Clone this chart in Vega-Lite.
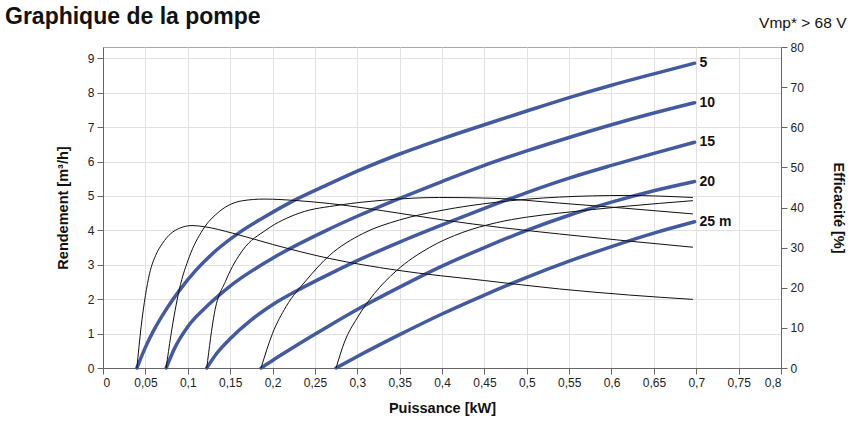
{
  "$schema": "https://vega.github.io/schema/vega-lite/v6.json",
  "width": 678,
  "height": 321,
  "autosize": "none",
  "padding": {"left": 103, "top": 47, "right": 82, "bottom": 54},
  "background": "white",
  "title": {"text": "Graphique de la pompe", "anchor": "start", "frame": "group", "dx": -98, "dy": 42, "fontSize": 23, "fontWeight": "bold", "font": "Liberation Sans", "color": "#111", "baseline": "alphabetic", "offset": 10},
  "config": {
    "font": "Liberation Sans",
    "view": {"stroke": "#aaa", "strokeWidth": 1},
    "axis": {"labelFont": "Liberation Sans", "labelFontSize": 12, "labelColor": "#222", "titleFont": "Liberation Sans", "titleFontSize": 14.5, "titleFontWeight": "bold", "titleColor": "#111", "domainColor": "#666", "tickColor": "#666", "gridColor": "#e2e2e2", "tickSize": 6, "labelPadding": 3}
  },
  "datasets": {
    "curves": [
      {"s": "Q", "h": "5", "P": 0.04, "v": 0}, {"s": "Q", "h": "5", "P": 0.05, "v": 0.6}, {"s": "Q", "h": "5", "P": 0.06, "v": 1.1}, {"s": "Q", "h": "5", "P": 0.075, "v": 1.72}, {"s": "Q", "h": "5", "P": 0.09, "v": 2.25}, {"s": "Q", "h": "5", "P": 0.11, "v": 2.85}, {"s": "Q", "h": "5", "P": 0.135, "v": 3.45}, {"s": "Q", "h": "5", "P": 0.16, "v": 3.92}, {"s": "Q", "h": "5", "P": 0.19, "v": 4.38}, {"s": "Q", "h": "5", "P": 0.22, "v": 4.8}, {"s": "Q", "h": "5", "P": 0.267, "v": 5.35}, {"s": "Q", "h": "5", "P": 0.3, "v": 5.72}, {"s": "Q", "h": "5", "P": 0.35, "v": 6.22}, {"s": "Q", "h": "5", "P": 0.4, "v": 6.66}, {"s": "Q", "h": "5", "P": 0.45, "v": 7.07}, {"s": "Q", "h": "5", "P": 0.5, "v": 7.47}, {"s": "Q", "h": "5", "P": 0.55, "v": 7.86}, {"s": "Q", "h": "5", "P": 0.6, "v": 8.22}, {"s": "Q", "h": "5", "P": 0.65, "v": 8.55}, {"s": "Q", "h": "5", "P": 0.698, "v": 8.86},
      {"s": "Q", "h": "10", "P": 0.0745, "v": 0}, {"s": "Q", "h": "10", "P": 0.085, "v": 0.6}, {"s": "Q", "h": "10", "P": 0.1, "v": 1.2}, {"s": "Q", "h": "10", "P": 0.125, "v": 1.85}, {"s": "Q", "h": "10", "P": 0.15, "v": 2.38}, {"s": "Q", "h": "10", "P": 0.2, "v": 3.19}, {"s": "Q", "h": "10", "P": 0.267, "v": 4.04}, {"s": "Q", "h": "10", "P": 0.3, "v": 4.41}, {"s": "Q", "h": "10", "P": 0.35, "v": 4.93}, {"s": "Q", "h": "10", "P": 0.4, "v": 5.42}, {"s": "Q", "h": "10", "P": 0.45, "v": 5.89}, {"s": "Q", "h": "10", "P": 0.5, "v": 6.31}, {"s": "Q", "h": "10", "P": 0.55, "v": 6.7}, {"s": "Q", "h": "10", "P": 0.6, "v": 7.07}, {"s": "Q", "h": "10", "P": 0.65, "v": 7.41}, {"s": "Q", "h": "10", "P": 0.698, "v": 7.71},
      {"s": "Q", "h": "15", "P": 0.1224, "v": 0}, {"s": "Q", "h": "15", "P": 0.135, "v": 0.45}, {"s": "Q", "h": "15", "P": 0.15, "v": 0.85}, {"s": "Q", "h": "15", "P": 0.175, "v": 1.4}, {"s": "Q", "h": "15", "P": 0.2, "v": 1.84}, {"s": "Q", "h": "15", "P": 0.235, "v": 2.33}, {"s": "Q", "h": "15", "P": 0.267, "v": 2.73}, {"s": "Q", "h": "15", "P": 0.3, "v": 3.12}, {"s": "Q", "h": "15", "P": 0.35, "v": 3.66}, {"s": "Q", "h": "15", "P": 0.4, "v": 4.16}, {"s": "Q", "h": "15", "P": 0.45, "v": 4.64}, {"s": "Q", "h": "15", "P": 0.5, "v": 5.1}, {"s": "Q", "h": "15", "P": 0.55, "v": 5.52}, {"s": "Q", "h": "15", "P": 0.6, "v": 5.89}, {"s": "Q", "h": "15", "P": 0.65, "v": 6.24}, {"s": "Q", "h": "15", "P": 0.698, "v": 6.56},
      {"s": "Q", "h": "20", "P": 0.1865, "v": 0}, {"s": "Q", "h": "20", "P": 0.2, "v": 0.22}, {"s": "Q", "h": "20", "P": 0.22, "v": 0.53}, {"s": "Q", "h": "20", "P": 0.25, "v": 0.98}, {"s": "Q", "h": "20", "P": 0.267, "v": 1.23}, {"s": "Q", "h": "20", "P": 0.3, "v": 1.7}, {"s": "Q", "h": "20", "P": 0.35, "v": 2.35}, {"s": "Q", "h": "20", "P": 0.4, "v": 2.96}, {"s": "Q", "h": "20", "P": 0.45, "v": 3.5}, {"s": "Q", "h": "20", "P": 0.5, "v": 4.0}, {"s": "Q", "h": "20", "P": 0.55, "v": 4.44}, {"s": "Q", "h": "20", "P": 0.6, "v": 4.82}, {"s": "Q", "h": "20", "P": 0.65, "v": 5.15}, {"s": "Q", "h": "20", "P": 0.698, "v": 5.42},
      {"s": "Q", "h": "25", "P": 0.275, "v": 0}, {"s": "Q", "h": "25", "P": 0.3, "v": 0.335}, {"s": "Q", "h": "25", "P": 0.35, "v": 0.97}, {"s": "Q", "h": "25", "P": 0.4, "v": 1.57}, {"s": "Q", "h": "25", "P": 0.45, "v": 2.12}, {"s": "Q", "h": "25", "P": 0.5, "v": 2.635}, {"s": "Q", "h": "25", "P": 0.55, "v": 3.105}, {"s": "Q", "h": "25", "P": 0.6, "v": 3.53}, {"s": "Q", "h": "25", "P": 0.65, "v": 3.92}, {"s": "Q", "h": "25", "P": 0.698, "v": 4.25},
      {"s": "E", "h": "5", "P": 0.04, "v": 0}, {"s": "E", "h": "5", "P": 0.045, "v": 10.3}, {"s": "E", "h": "5", "P": 0.05, "v": 18}, {"s": "E", "h": "5", "P": 0.055, "v": 23.6}, {"s": "E", "h": "5", "P": 0.062, "v": 28}, {"s": "E", "h": "5", "P": 0.07, "v": 31}, {"s": "E", "h": "5", "P": 0.08, "v": 33.5}, {"s": "E", "h": "5", "P": 0.09, "v": 34.8}, {"s": "E", "h": "5", "P": 0.105, "v": 35.5}, {"s": "E", "h": "5", "P": 0.12, "v": 35.2}, {"s": "E", "h": "5", "P": 0.153, "v": 33.6}, {"s": "E", "h": "5", "P": 0.2, "v": 30.8}, {"s": "E", "h": "5", "P": 0.267, "v": 27.3}, {"s": "E", "h": "5", "P": 0.346, "v": 24.4}, {"s": "E", "h": "5", "P": 0.45, "v": 21.8}, {"s": "E", "h": "5", "P": 0.5385, "v": 19.7}, {"s": "E", "h": "5", "P": 0.62, "v": 18.2}, {"s": "E", "h": "5", "P": 0.696, "v": 17.1},
      {"s": "E", "h": "10", "P": 0.0745, "v": 0}, {"s": "E", "h": "10", "P": 0.08, "v": 8}, {"s": "E", "h": "10", "P": 0.09, "v": 19.5}, {"s": "E", "h": "10", "P": 0.102, "v": 27.8}, {"s": "E", "h": "10", "P": 0.1176, "v": 34.4}, {"s": "E", "h": "10", "P": 0.1373, "v": 39}, {"s": "E", "h": "10", "P": 0.165, "v": 41.7}, {"s": "E", "h": "10", "P": 0.19, "v": 42.1}, {"s": "E", "h": "10", "P": 0.23, "v": 41.7}, {"s": "E", "h": "10", "P": 0.267, "v": 41}, {"s": "E", "h": "10", "P": 0.33, "v": 39.2}, {"s": "E", "h": "10", "P": 0.401, "v": 36.9}, {"s": "E", "h": "10", "P": 0.47, "v": 35}, {"s": "E", "h": "10", "P": 0.5385, "v": 33.4}, {"s": "E", "h": "10", "P": 0.617, "v": 31.7}, {"s": "E", "h": "10", "P": 0.696, "v": 30.1},
      {"s": "E", "h": "15", "P": 0.1224, "v": 0}, {"s": "E", "h": "15", "P": 0.1314, "v": 13.6}, {"s": "E", "h": "15", "P": 0.1452, "v": 21.9}, {"s": "E", "h": "15", "P": 0.165, "v": 29.4}, {"s": "E", "h": "15", "P": 0.1924, "v": 34.4}, {"s": "E", "h": "15", "P": 0.2317, "v": 38.6}, {"s": "E", "h": "15", "P": 0.279, "v": 40.6}, {"s": "E", "h": "15", "P": 0.33, "v": 41.8}, {"s": "E", "h": "15", "P": 0.397, "v": 42.5}, {"s": "E", "h": "15", "P": 0.46, "v": 42.3}, {"s": "E", "h": "15", "P": 0.5385, "v": 41.1}, {"s": "E", "h": "15", "P": 0.617, "v": 39.8}, {"s": "E", "h": "15", "P": 0.696, "v": 38.4},
      {"s": "E", "h": "20", "P": 0.1865, "v": 0}, {"s": "E", "h": "20", "P": 0.2, "v": 8.6}, {"s": "E", "h": "20", "P": 0.216, "v": 15.3}, {"s": "E", "h": "20", "P": 0.24, "v": 21.9}, {"s": "E", "h": "20", "P": 0.267, "v": 28}, {"s": "E", "h": "20", "P": 0.3065, "v": 33.5}, {"s": "E", "h": "20", "P": 0.35, "v": 36.9}, {"s": "E", "h": "20", "P": 0.4, "v": 39.3}, {"s": "E", "h": "20", "P": 0.464, "v": 41.3}, {"s": "E", "h": "20", "P": 0.5385, "v": 42.6}, {"s": "E", "h": "20", "P": 0.617, "v": 43}, {"s": "E", "h": "20", "P": 0.696, "v": 42.5},
      {"s": "E", "h": "25", "P": 0.275, "v": 0}, {"s": "E", "h": "25", "P": 0.285, "v": 6.5}, {"s": "E", "h": "25", "P": 0.3, "v": 12.5}, {"s": "E", "h": "25", "P": 0.32, "v": 18.5}, {"s": "E", "h": "25", "P": 0.346, "v": 24.2}, {"s": "E", "h": "25", "P": 0.385, "v": 30}, {"s": "E", "h": "25", "P": 0.4245, "v": 33.8}, {"s": "E", "h": "25", "P": 0.464, "v": 36.2}, {"s": "E", "h": "25", "P": 0.5, "v": 37.6}, {"s": "E", "h": "25", "P": 0.5385, "v": 38.6}, {"s": "E", "h": "25", "P": 0.617, "v": 40.3}, {"s": "E", "h": "25", "P": 0.696, "v": 41.7}
    ],
    "labels": [
      {"P": 0.698, "v": 8.86, "t": "5"},
      {"P": 0.698, "v": 7.71, "t": "10"},
      {"P": 0.698, "v": 6.56, "t": "15"},
      {"P": 0.698, "v": 5.42, "t": "20"},
      {"P": 0.698, "v": 4.25, "t": "25 m"}
    ]
  },
  "layer": [
    {
      "layer": [
        {
          "data": {"name": "curves"},
          "transform": [{"filter": "datum.s === 'Q'"}],
          "mark": {"type": "line", "interpolate": "monotone", "color": "#435aa0", "strokeWidth": 3.5, "strokeCap": "round"},
          "encoding": {
            "x": {"field": "P", "type": "quantitative", "scale": {"domain": [0, 0.8], "nice": false, "zero": false},
              "axis": {"orient": "bottom", "values": [0, 0.05, 0.1, 0.15, 0.2, 0.25, 0.3, 0.35, 0.4, 0.45, 0.5, 0.55, 0.6, 0.65, 0.7, 0.75, 0.8], "labelExpr": "replace(format(datum.value, '~g'), '.', ',')", "title": "Puissance [kW]", "titlePadding": 13, "grid": true}},
            "y": {"field": "v", "type": "quantitative", "scale": {"domain": [0, 9.33], "nice": false},
              "axis": {"orient": "left", "values": [0, 1, 2, 3, 4, 5, 6, 7, 8, 9], "title": "Rendement [m³/h]", "titlePadding": 17, "grid": true}},
            "detail": {"field": "h"}
          }
        },
        {
          "data": {"name": "labels"},
          "mark": {"type": "text", "align": "left", "baseline": "middle", "dx": 5, "fontSize": 14, "fontWeight": "bold", "font": "Liberation Sans", "color": "#111"},
          "encoding": {
            "x": {"field": "P", "type": "quantitative",
              "axis": {"orient": "bottom", "values": [0, 0.05, 0.1, 0.15, 0.2, 0.25, 0.3, 0.35, 0.4, 0.45, 0.5, 0.55, 0.6, 0.65, 0.7, 0.75, 0.8], "labelExpr": "replace(format(datum.value, '~g'), '.', ',')", "title": "Puissance [kW]", "titlePadding": 13, "grid": true}},
            "y": {"field": "v", "type": "quantitative",
              "axis": {"orient": "left", "values": [0, 1, 2, 3, 4, 5, 6, 7, 8, 9], "title": "Rendement [m³/h]", "titlePadding": 17, "grid": true}},
            "text": {"field": "t"}
          }
        }
      ]
    },
    {
      "data": {"name": "curves"},
      "transform": [{"filter": "datum.s === 'E'"}],
      "mark": {"type": "line", "interpolate": "monotone", "color": "#111", "strokeWidth": 1},
      "encoding": {
        "x": {"field": "P", "type": "quantitative",
          "axis": {"orient": "top", "domain": false, "ticks": false, "labels": false, "grid": false, "title": "Vmp* > 68 V", "titleFontWeight": "normal", "titleFontSize": 15.5, "titleColor": "#111", "titleAnchor": null, "titleAlign": "right", "titleX": 743, "titleY": -20, "titleBaseline": "alphabetic"}},
        "y": {"field": "v", "type": "quantitative", "scale": {"domain": [0, 80], "nice": false},
          "axis": {"orient": "right", "values": [0, 10, 20, 30, 40, 50, 60, 70, 80], "title": "Efficacité [%]", "titlePadding": 27, "grid": false}},
        "detail": {"field": "h"}
      }
    }
  ],
  "resolve": {"scale": {"y": "independent"}, "axis": {"x": "independent"}}
}
